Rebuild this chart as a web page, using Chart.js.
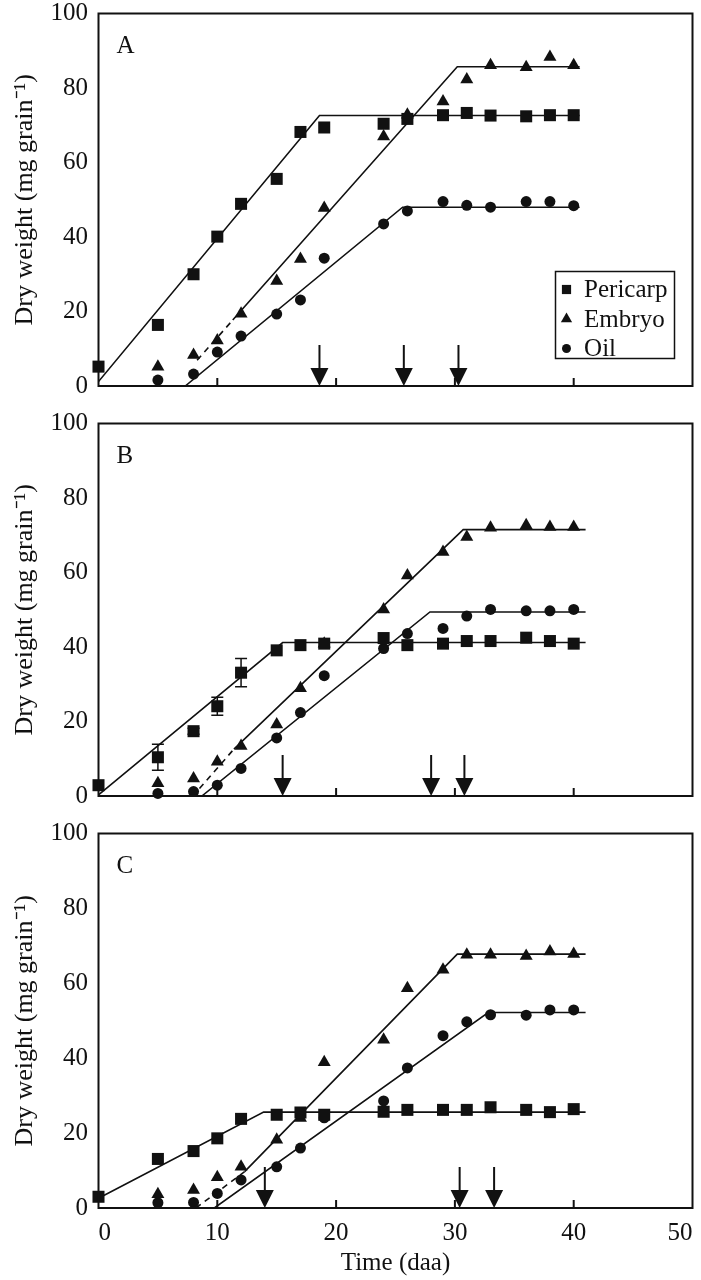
<!DOCTYPE html>
<html>
<head>
<meta charset="utf-8">
<script src="https://cdn.jsdelivr.net/npm/chart.js@4.4.0/dist/chart.umd.min.js"></script>
<style>
  body { margin: 0; background: #fff; }
  #wrap { position: relative; width: 701px; height: 1280px; }
  .panel { position: absolute; left: 0; width: 701px; }
</style>
</head>
<body>
<div id="wrap">
  <div class="panel" style="top:0;height:410px"><canvas id="panelA" width="701" height="410"></canvas></div>
  <div class="panel" style="top:410px;height:410px"><canvas id="panelB" width="701" height="410"></canvas></div>
  <div class="panel" style="top:820px;height:460px"><canvas id="panelC" width="701" height="460"></canvas></div>
</div>
<script>
// sampling days (daa)
const daysPericarp = [0, 5, 8, 10, 12, 15, 17, 19, 24, 26, 29, 31, 33, 36, 38, 40];
const daysEmbryoOil = [5, 8, 10, 12, 15, 17, 19, 24, 26, 29, 31, 33, 36, 38, 40];

// panel A
const pericarpA = [5.2, 16.4, 30.0, 40.1, 48.9, 55.6, 68.2, 69.4, 70.4, 71.7, 72.7, 73.3, 72.6, 72.4, 72.7, 72.7];
const embryoA = [5.2, 8.3, 12.2, 19.4, 28.2, 34.1, 47.8, 67.0, 72.8, 76.4, 82.3, 86.1, 85.6, 88.3, 86.1];
const oilA = [1.6, 3.2, 9.1, 13.4, 19.3, 23.1, 34.3, 43.5, 47.0, 49.5, 48.5, 48.0, 49.5, 49.5, 48.4];
const fitPericarpA = [[0, 1.2], [18.6, 72.6], [40.5, 72.6]];
const fitEmbryoA = [[11.3, 17.7], [30.2, 85.7], [40.5, 85.7]];
const dashEmbryoA = [[8.3, 6.9], [11.3, 17.7]];
const fitOilA = [[7.3, 0], [25.6, 48.0], [40.5, 48.0]];
const arrowsA = [18.6, 25.7, 30.3];

// panel B
const pericarpB = [2.9, 10.4, 17.4, 24.1, 33.1, 39.1, 40.5, 40.9, 42.4, 40.5, 40.9, 41.6, 41.6, 42.5, 41.6, 40.9];
const pericarpErrB = [0, 3.5, 0.8, 2.4, 3.8, 0, 0, 0, 0, 0, 0, 0, 0, 0, 0, 0];
const embryoB = [3.4, 4.7, 9.2, 13.4, 19.2, 28.9, 40.9, 50.1, 59.2, 65.5, 69.5, 72.0, 72.7, 72.2, 72.2];
const oilB = [0.7, 1.2, 2.9, 7.4, 15.6, 22.4, 32.3, 39.6, 43.6, 45.0, 48.3, 50.1, 49.7, 49.7, 50.1];
const fitPericarpB = [[0, 0.3], [15.5, 41.2], [41, 41.2]];
const fitEmbryoB = [[11.4, 12.6], [30.7, 71.5], [41, 71.5]];
const dashEmbryoB = [[8.5, 2.0], [11.4, 12.6]];
const fitOilB = [[8.7, 0], [27.9, 49.4], [41, 49.4]];
const arrowsB = [15.5, 28.0, 30.8];

// panel C
const pericarpC = [3.0, 13.1, 15.2, 18.6, 23.8, 24.9, 25.5, 24.9, 25.7, 26.2, 26.2, 26.2, 26.9, 26.2, 25.6, 26.4];
const embryoC = [3.7, 4.8, 8.2, 11.0, 18.2, 24.0, 38.9, 44.9, 58.7, 63.6, 67.6, 67.6, 67.3, 68.5, 67.8];
const oilC = [1.4, 1.5, 3.9, 7.5, 11.0, 16.0, 24.1, 28.6, 37.4, 46.0, 49.7, 51.6, 51.5, 52.9, 52.9];
const fitPericarpC = [[0, 2.6], [13.9, 25.6], [41, 25.6]];
const fitEmbryoC = [[12.3, 9.7], [30.2, 67.8], [41, 67.8]];
const dashEmbryoC = [[8.2, 0], [12.3, 9.7]];
const fitOilC = [[9.75, 0], [32.8, 52.2], [41, 52.2]];
const arrowsC = [14.0, 30.4, 33.3];

const FONT = "'Liberation Serif', 'Times New Roman', serif";
const INK = '#111';

function pts(xs, ys) { return ys.map((v, i) => ({ x: xs[i], y: v })); }
function knots(arr) { return arr.map(p => ({ x: p[0], y: p[1] })); }

const decor = {
    id: 'decor',
    beforeDatasetsDraw(chart, args, opts) {
        // error bars
        const { ctx, scales: { x, y } } = chart;
        ctx.save();
        ctx.strokeStyle = INK;
        ctx.lineWidth = 1.5;
        (opts.errors || []).forEach(e => {
            e.sd.forEach((s, i) => {
                if (!s) return;
                const px = x.getPixelForValue(e.x[i]);
                const top = y.getPixelForValue(e.y[i] + s);
                const bot = y.getPixelForValue(e.y[i] - s);
                ctx.beginPath();
                ctx.moveTo(px, top); ctx.lineTo(px, bot);
                ctx.moveTo(px - 6, top); ctx.lineTo(px + 6, top);
                ctx.moveTo(px - 6, bot); ctx.lineTo(px + 6, bot);
                ctx.stroke();
            });
        });
        ctx.restore();
    },
    afterDraw(chart, args, opts) {
        const { ctx, chartArea: a, scales: { x } } = chart;
        ctx.save();
        ctx.strokeStyle = INK;
        ctx.fillStyle = INK;
        ctx.lineWidth = 2;
        ctx.strokeRect(a.left, a.top, a.right - a.left, a.bottom - a.top);

        // inner tick marks on the time axis
        x.ticks.forEach(t => {
            if (t.value <= x.min || t.value >= x.max) return;
            const px = x.getPixelForValue(t.value);
            ctx.beginPath();
            ctx.moveTo(px, a.bottom);
            ctx.lineTo(px, a.bottom - 8);
            ctx.stroke();
        });

        // arrows
        opts.arrows.forEach(v => {
            const px = x.getPixelForValue(v);
            ctx.lineWidth = 2;
            ctx.beginPath();
            ctx.moveTo(px, a.bottom - 41);
            ctx.lineTo(px, a.bottom - 16);
            ctx.stroke();
            ctx.beginPath();
            ctx.moveTo(px - 9, a.bottom - 18);
            ctx.lineTo(px + 9, a.bottom - 18);
            ctx.lineTo(px, a.bottom);
            ctx.closePath();
            ctx.fill();
        });

        // panel letter
        ctx.font = '25px ' + FONT;
        ctx.textBaseline = 'middle';
        ctx.textAlign = 'left';
        ctx.fillText(opts.letter, a.left + 18, a.top + 33);

        // legend box
        if (opts.legend) {
            const bx = a.right - 137, by = a.top + 258, bw = 119, bh = 87;
            ctx.lineWidth = 1.5;
            ctx.strokeRect(bx, by, bw, bh);
            const marks = chart.data.datasets.filter(d => d.inLegend);
            const sizes = [6.5, 6.5, 4.5];
            marks.forEach((d, i) => {
                const cy = by + 18 + i * 29.5;
                Chart.helpers.drawPoint(ctx, { pointStyle: d.pointStyle, radius: sizes[i], rotation: 0, borderWidth: 0 }, bx + 11, cy);
                ctx.fillText(d.label, bx + 28.6, cy + 1);
            });
        }
        ctx.restore();
    }
};

function makePanel(id, p) {
    const marker = (label, xs, ys, style, r) => ({
        label, data: pts(xs, ys), pointStyle: style, pointRadius: r,
        pointBackgroundColor: INK, pointBorderWidth: 0, showLine: false,
        clip: false, order: 1, inLegend: true
    });
    const fit = (arr, dash) => ({
        data: knots(arr), showLine: true, pointRadius: 0, borderColor: INK,
        borderWidth: 1.6, borderDash: dash || [], tension: 0, order: 2, fill: false
    });
    const yTitle = {
        display: true, text: 'Dry weight (mg grain\u207B\u00B9)', color: INK,
        font: { family: FONT, size: 26 }, padding: { top: 10, bottom: 0 }
    };
    new Chart(document.getElementById(id), {
        type: 'scatter',
        data: {
            datasets: [
                marker('Pericarp', daysPericarp, p.peri, 'rect', 8.5),
                marker('Embryo', daysEmbryoOil, p.emb, 'triangle', 7.5),
                marker('Oil', daysEmbryoOil, p.oil, 'circle', 5.5),
                fit(p.fitPeri), fit(p.fitEmb), fit(p.fitOil), fit(p.dashEmb, [6, 5])
            ]
        },
        options: {
            responsive: false,
            devicePixelRatio: 1,
            animation: false,
            layout: { padding: { top: 13.5, right: 8, bottom: 0, left: 0 } },
            plugins: {
                legend: { display: false },
                tooltip: { enabled: false },
                decor: { arrows: p.arrows, letter: p.letter, legend: p.legend, errors: p.errors }
            },
            scales: {
                x: {
                    type: 'linear', min: 0, max: 50,
                    grid: { display: false }, border: { display: false },
                    ticks: {
                        display: p.xLabels, stepSize: 10, padding: 2, color: INK,
                        align: 'inner',
                        font: { family: FONT, size: 25 }
                    },
                    title: {
                        display: p.xLabels, text: 'Time (daa)', color: INK,
                        font: { family: FONT, size: 25 }, padding: { top: 0, bottom: 2 }
                    },
                    afterFit: s => {
                        s.height = p.xHeight;
                        s.paddingLeft = 0;
                        s.paddingRight = 0;
                    }
                },
                y: {
                    min: 0, max: 100,
                    grid: { display: false }, border: { display: false },
                    ticks: {
                        stepSize: 20, padding: 2.5, color: INK,
                        font: { family: FONT, size: 25, lineHeight: 1.1 }
                    },
                    title: yTitle,
                    afterFit: s => {
                        s.width = 98.5;
                        s.paddingTop = 0;
                        s.paddingBottom = 0;
                    }
                }
            }
        },
        plugins: [decor]
    });
}

makePanel('panelA', {
    peri: pericarpA, emb: embryoA, oil: oilA,
    fitPeri: fitPericarpA, fitEmb: fitEmbryoA, fitOil: fitOilA, dashEmb: dashEmbryoA,
    arrows: arrowsA, letter: 'A', legend: true, xLabels: false, xHeight: 24, errors: []
});
makePanel('panelB', {
    peri: pericarpB, emb: embryoB, oil: oilB,
    fitPeri: fitPericarpB, fitEmb: fitEmbryoB, fitOil: fitOilB, dashEmb: dashEmbryoB,
    arrows: arrowsB, letter: 'B', legend: false, xLabels: false, xHeight: 24,
    errors: [{ x: daysPericarp, y: pericarpB, sd: pericarpErrB }]
});
makePanel('panelC', {
    peri: pericarpC, emb: embryoC, oil: oilC,
    fitPeri: fitPericarpC, fitEmb: fitEmbryoC, fitOil: fitOilC, dashEmb: dashEmbryoC,
    arrows: arrowsC, letter: 'C', legend: false, xLabels: true, xHeight: 72, errors: []
});
</script>
</body>
</html>
